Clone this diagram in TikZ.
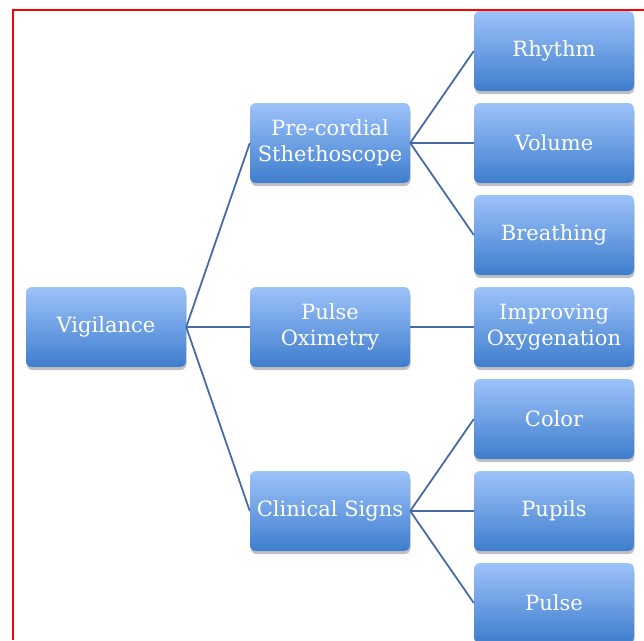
\documentclass[tikz,border=0pt]{standalone}
\usepackage{fontspec}
\setmainfont{DejaVu Serif}
\usepackage{tikz}
\usetikzlibrary{shadows}
\usetikzlibrary{positioning}

\definecolor{boxtop}{RGB}{157,195,250}
\definecolor{boxbottom}{RGB}{62,125,205}
\definecolor{linkblue}{RGB}{70,108,165}

\tikzset{
    box/.style={rectangle, rounded corners=6pt, minimum width=160pt, minimum height=80pt, inner sep=0pt,
        top color=boxtop, bottom color=boxbottom, text=white, align=center,
        font=\fontsize{21}{26}\selectfont,
        drop shadow={shadow xshift=0.5pt, shadow yshift=-3pt, opacity=0.3, fill=black!80}},
    link/.style={draw=linkblue, line width=1.8pt}
}

\begin{document}
\begin{tikzpicture}[x=1pt, y=-1pt]
    \useasboundingbox (0,0) rectangle (644,640);
    \draw [red, line width=2pt] (644,10) -- (13,10) -- (13,640);

    \node [box] (vigilance) at (106,327) {Vigilance};

    \node [box] (precordial) at (330,143) {Pre-cordial\\Sthethoscope};
    \node [box] (oximetry) at (330,327) {Pulse\\Oximetry};
    \node [box] (clinical) at (330,511) {Clinical Signs};

    \node [box] (rhythm) at (554,51) {Rhythm};
    \node [box] (volume) at (554,143) {Volume};
    \node [box] (breathing) at (554,235) {Breathing};
    \node [box] (improving) at (554,327) {Improving\\Oxygenation};
    \node [box] (color) at (554,419) {Color};
    \node [box] (pupils) at (554,511) {Pupils};
    \node [box] (pulse) at (554,603) {Pulse};

    \draw [link] (vigilance.east) -- (precordial.west);
    \draw [link] (vigilance.east) -- (oximetry.west);
    \draw [link] (vigilance.east) -- (clinical.west);

    \draw [link] (precordial.east) -- (rhythm.west);
    \draw [link] (precordial.east) -- (volume.west);
    \draw [link] (precordial.east) -- (breathing.west);
    \draw [link] (oximetry.east) -- (improving.west);
    \draw [link] (clinical.east) -- (color.west);
    \draw [link] (clinical.east) -- (pupils.west);
    \draw [link] (clinical.east) -- (pulse.west);
\end{tikzpicture}
\end{document}
